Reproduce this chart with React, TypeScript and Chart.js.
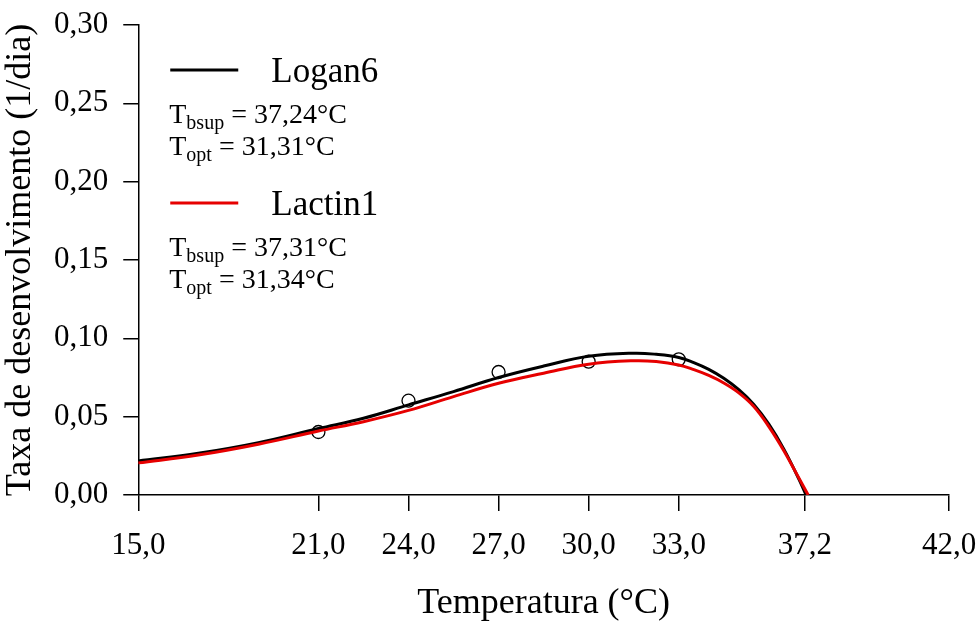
import React, { useEffect, useRef } from "react";
import { Chart, registerables } from "chart.js";

Chart.register(...registerables);

const FONT = "'Liberation Serif', 'Times New Roman', serif";

// Observed data points (temperature °C, rate 1/day)
const obsTemps = [21, 24, 27, 30, 33];
const obsRates = [0.0402, 0.0602, 0.0785, 0.0851, 0.0866];

// Logan6 fitted curve
const loganTemps = [15, 17, 19, 21, 22.5, 24, 25.5, 27, 28.5, 30, 31.5, 32.25, 33, 33.5, 34, 34.5, 35, 35.5, 36, 36.5, 37, 37.24];
const loganRates = [0.0217, 0.0266, 0.0334, 0.0424, 0.049, 0.0575, 0.066, 0.075, 0.0823, 0.0885, 0.0905, 0.0898, 0.0878, 0.0845, 0.0802, 0.0745, 0.0672, 0.0578, 0.0452, 0.0293, 0.0102, 0];

// Lactin1 fitted curve
const lactinTemps = [15, 17, 19, 21, 22.5, 24, 25.5, 27, 28.5, 30, 31.5, 32.25, 33, 33.5, 34, 34.5, 35, 35.5, 36, 36.5, 37, 37.31];
const lactinRates = [0.0205, 0.0255, 0.0324, 0.0408, 0.0468, 0.054, 0.0628, 0.0713, 0.0777, 0.0835, 0.0857, 0.0852, 0.083, 0.08, 0.0763, 0.0715, 0.0652, 0.0565, 0.0437, 0.0283, 0.0108, 0];

const xTicks = [15, 21, 24, 27, 30, 33, 37.2, 42];
const yTicks = [0, 0.05, 0.1, 0.15, 0.2, 0.25, 0.3];

const legendEntries = [
  { name: "Logan6", color: "#000000", tbsup: "37,24°C", topt: "31,31°C" },
  { name: "Lactin1", color: "#e60000", tbsup: "37,31°C", topt: "31,34°C" },
];

const toPts = (xs: number[], ys: number[]) => xs.map((x, i) => ({ x, y: ys[i] }));

const legendPlugin = {
  id: "customLegend",
  afterDraw(chart: any) {
    const ctx = chart.ctx as CanvasRenderingContext2D;
    const L = chart.chartArea.left;
    const T = chart.chartArea.top;
    ctx.save();
    ctx.fillStyle = "#000";
    ctx.textAlign = "left";
    ctx.textBaseline = "alphabetic";
    legendEntries.forEach((e, i) => {
      const dy = i * 133;
      ctx.strokeStyle = e.color;
      ctx.lineWidth = 3;
      ctx.beginPath();
      ctx.moveTo(L + 32, T + 45 + dy);
      ctx.lineTo(L + 100, T + 45 + dy);
      ctx.stroke();
      ctx.font = `35px ${FONT}`;
      ctx.fillText(e.name, L + 133, T + 57 + dy);
      const row = (sub: string, val: string, base: number) => {
        let x = L + 31;
        ctx.font = `28px ${FONT}`;
        ctx.fillText("T", x, base);
        x += ctx.measureText("T").width;
        ctx.font = `20px ${FONT}`;
        ctx.fillText(sub, x, base + 6);
        x += ctx.measureText(sub).width;
        ctx.font = `28px ${FONT}`;
        ctx.fillText(" = " + val, x, base);
      };
      row("bsup", e.tbsup, T + 98 + dy);
      row("opt", e.topt, T + 130 + dy);
    });
    ctx.restore();
  },
};

export default function App() {
  const ref = useRef<HTMLCanvasElement | null>(null);
  useEffect(() => {
    if (!ref.current) return;
    const chart = new Chart(ref.current, {
      type: "line",
      data: {
        datasets: [
          {
            label: "Observado",
            data: toPts(obsTemps, obsRates),
            showLine: false,
            pointRadius: 6.5,
            pointBorderWidth: 1.3,
            pointBorderColor: "#000",
            pointBackgroundColor: "rgba(255,255,255,0)",
            order: 3,
          },
          {
            label: "Logan6",
            data: toPts(loganTemps, loganRates),
            borderColor: "#000000",
            borderWidth: 3,
            pointRadius: 0,
            tension: 0.4,
            order: 2,
          },
          {
            label: "Lactin1",
            data: toPts(lactinTemps, lactinRates),
            borderColor: "#e60000",
            borderWidth: 3,
            pointRadius: 0,
            tension: 0.4,
            order: 1,
          },
        ],
      },
      options: {
        responsive: false,
        animation: false,
        layout: { padding: { left: 0, right: 30, top: 25, bottom: 0 } },
        plugins: { legend: { display: false }, tooltip: { enabled: false } },
        scales: {
          x: {
            type: "linear",
            min: 15,
            max: 42,
            afterBuildTicks: (axis: any) => {
              axis.ticks = xTicks.map((v) => ({ value: v }));
            },
            afterFit: (scale: any) => {
              scale.paddingLeft = 0;
              scale.paddingRight = 0;
            },
            grid: { drawOnChartArea: false, drawTicks: true, tickLength: 16, color: "#000", lineWidth: 1.5 },
            border: { display: true, color: "#000", width: 1.5 },
            ticks: {
              color: "#000",
              font: { family: FONT, size: 31 },
              padding: 16,
              maxRotation: 0,
              autoSkip: false,
              callback: (v: any) => Number(v).toFixed(1).replace(".", ","),
            },
            title: {
              display: true,
              text: "Temperatura (°C)",
              color: "#000",
              font: { family: FONT, size: 36, lineHeight: 1.05 },
              padding: { top: 4, bottom: 0 },
            },
          },
          y: {
            min: 0,
            max: 0.3,
            afterBuildTicks: (axis: any) => {
              axis.ticks = yTicks.map((v) => ({ value: v }));
            },
            afterFit: (scale: any) => {
              scale.paddingTop = 0;
              scale.paddingBottom = 0;
            },
            grid: { drawOnChartArea: false, drawTicks: true, tickLength: 15, color: "#000", lineWidth: 1.5 },
            border: { display: true, color: "#000", width: 1.5 },
            ticks: {
              color: "#000",
              font: { family: FONT, size: 31 },
              padding: 15,
              callback: (v: any) => Number(v).toFixed(2).replace(".", ","),
            },
            title: {
              display: true,
              text: "Taxa de desenvolvimento (1/dia)",
              color: "#000",
              font: { family: FONT, size: 36, lineHeight: 1 },
              padding: { top: 3, bottom: 0 },
            },
          },
        },
      },
      plugins: [legendPlugin],
    });
    return () => chart.destroy();
  }, []);
  return (
    <div style={{ position: "absolute", left: 0, top: 0, width: 979, height: 622, background: "#fff" }}>
      <canvas ref={ref} width={979} height={622} style={{ width: 979, height: 622 }} />
    </div>
  );
}
